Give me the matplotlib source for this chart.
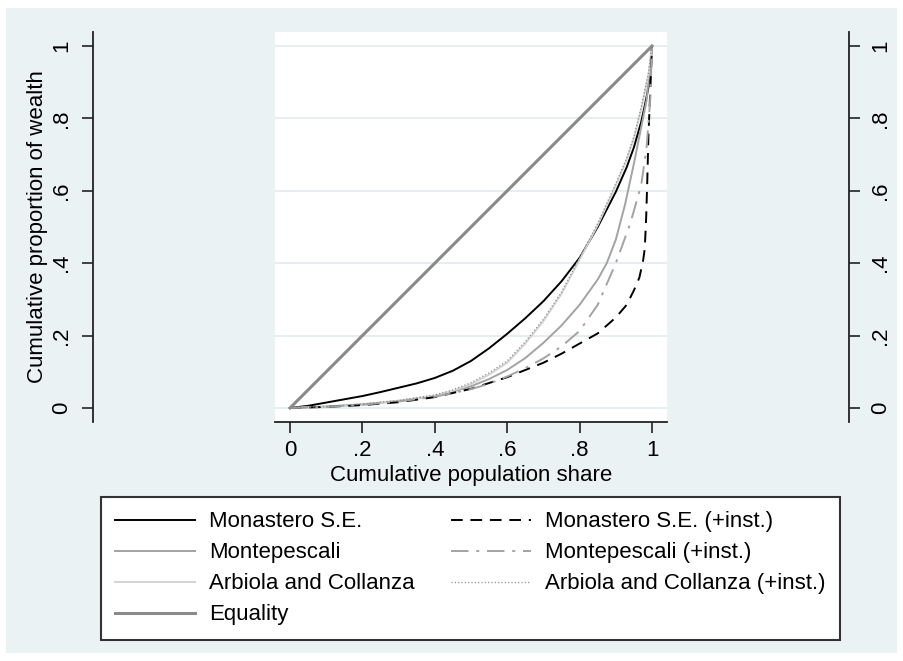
import matplotlib
matplotlib.use("Agg")
import matplotlib.pyplot as plt
from matplotlib.patches import Rectangle

plt.rcParams['font.family'] = ['Liberation Sans', 'DejaVu Sans']

# ---- data ----
mon_x = [0, .05, .1, .15, .2, .25, .3, .35, .4, .45, .5, .55, .6, .65, .7, .75, .8, .85, .9, .93, .95, .97, .98, .99, 1.0]
mon_y = [0, .006, .015, .024, .033, .044, .056, .068, .083, .103, .13, .165, .205, .248, .295, .35, .415, .5, .597, .665, .72, .79, .835, .885, 1.0]

mtp_x = [0, .1, .2, .3, .4, .45, .5, .55, .6, .65, .7, .75, .8, .85, .875, .9, .925, .95, .97, .985, 1.0]
mtp_y = [0, .004, .010, .019, .033, .045, .06, .08, .105, .138, .18, .228, .285, .355, .40, .465, .56, .675, .775, .85, 1.0]

arb_x = [0, .1, .2, .3, .4, .45, .5, .55, .6, .65, .7, .75, .8, .85, .9, .93, .95, .97, .99, 1.0]
arb_y = [0, .004, .010, .020, .034, .047, .066, .092, .125, .178, .24, .315, .41, .505, .615, .685, .745, .825, .92, 1.0]

mon_i_x = [0, .1, .2, .3, .4, .5, .6, .7, .75, .8, .85, .9, .93, .95, .965, .975, .98, .984, .987, .99, .995, 1.0]
mon_i_y = [0, .003, .008, .016, .03, .053, .085, .125, .15, .178, .206, .25, .285, .325, .36, .405, .44, .53, .63, .75, .87, 1.0]

mtp_i_x = [0, .1, .2, .3, .4, .5, .55, .6, .65, .7, .75, .8, .85, .9, .94, .97, .985, .995, 1.0]
mtp_i_y = [0, .003, .009, .018, .031, .052, .067, .087, .11, .137, .17, .213, .285, .40, .51, .615, .72, .85, 1.0]

arb_i_x = [0, .1, .2, .3, .4, .45, .5, .55, .6, .65, .7, .75, .8, .85, .9, .93, .95, .97, .99, 1.0]
arb_i_y = [0, .004, .011, .021, .036, .05, .07, .097, .13, .183, .245, .32, .415, .51, .62, .69, .75, .83, .925, 1.0]

eq_x = [0, 1]
eq_y = [0, 1]

ticks = [0, 0.2, 0.4, 0.6, 0.8, 1.0]
tick_labels = ['0', '.2', '.4', '.6', '.8', '1']
labels = ['Monastero S.E.', 'Montepescali', 'Arbiola and Collanza', 'Equality',
          'Monastero S.E. (+inst.)', 'Montepescali (+inst.)', 'Arbiola and Collanza (+inst.)']

W, H = 904, 661
def fx(px): return px / W
def fy(py): return 1 - py / H

BG = '#EAF2F3'
AX = '#222222'
FS = 16

fig = plt.figure(figsize=(W / 100, H / 100), dpi=100, facecolor='white')
fig.patches.append(Rectangle((fx(6), fy(653)), (897 - 6) / W, (653 - 8) / H,
                             transform=fig.transFigure, facecolor=BG, edgecolor='none', zorder=-10))

L, R, T, B = 275, 667, 32, 422
ax = fig.add_axes([fx(L), fy(B), (R - L) / W, (B - T) / H])
ax.set_facecolor('white')
ax.set_xlim(-0.0414, 1.0414)
ax.set_ylim(-0.0387, 1.0387)

l_mon, = ax.plot(mon_x, mon_y, color='black', lw=1.4)
l_mtp, = ax.plot(mtp_x, mtp_y, color='#a3a3a3', lw=1.4)
l_arb, = ax.plot(arb_x, arb_y, color='#d4d4d4', lw=1.4)
l_mon_i, = ax.plot(mon_i_x, mon_i_y, color='black', lw=1.4, dashes=(6, 4))
l_mtp_i, = ax.plot(mtp_i_x, mtp_i_y, color='#a3a3a3', lw=1.4, dashes=(9, 4, 1.5, 4))
l_arb_i, = ax.plot(arb_i_x, arb_i_y, color='#8c8c8c', lw=1.0, dashes=(0.8, 1.6))
l_eq, = ax.plot(eq_x, eq_y, color='#8a8a8a', lw=2.2)

ax.set_yticks(ticks)
ax.set_yticklabels(tick_labels)
ax.set_xticks(ticks)
ax.set_xticklabels(tick_labels)
ax.yaxis.grid(True, color='#E4EDF0', lw=1.3)
ax.xaxis.grid(False)
ax.set_axisbelow(True)

ax.spines['top'].set_visible(False)
ax.spines['bottom'].set_color(AX)
ax.spines['bottom'].set_linewidth(1.3)
ax.spines['left'].set_position(('axes', (93 - L) / (R - L)))
ax.spines['right'].set_position(('axes', (849 - L) / (R - L)))
for s in ['left', 'right']:
    ax.spines[s].set_color(AX)
    ax.spines[s].set_linewidth(1.3)

ax.tick_params(axis='x', direction='out', length=8, width=1.2, color=AX,
               labelsize=FS, pad=5)
ax.tick_params(axis='y', direction='out', length=8, width=1.2, color=AX,
               labelsize=FS, left=True, right=True, labelleft=True, labelright=True,
               labelrotation=90, pad=7)
for t in ax.yaxis.get_major_ticks():
    t.label1.set_va('center')
    t.label2.set_va('center')

ax.set_xlabel('Cumulative population share', fontsize=FS, labelpad=3)
ax.set_ylabel('Cumulative proportion of wealth', fontsize=FS, labelpad=2)

handles = [l_mon, l_mtp, l_arb, l_eq, l_mon_i, l_mtp_i, l_arb_i]
leg = fig.legend(handles, labels, loc='upper left', bbox_to_anchor=(fx(101), fy(497)),
                 ncol=2, fontsize=FS, frameon=True, fancybox=False, framealpha=1,
                 facecolor='white', edgecolor='#333333', borderpad=0.65,
                 handlelength=3.6, handletextpad=0.63, columnspacing=1.6,
                 labelspacing=0.45, borderaxespad=0)
leg.get_frame().set_linewidth(1.5)

fig.savefig('out.png', dpi=100, facecolor='white')
